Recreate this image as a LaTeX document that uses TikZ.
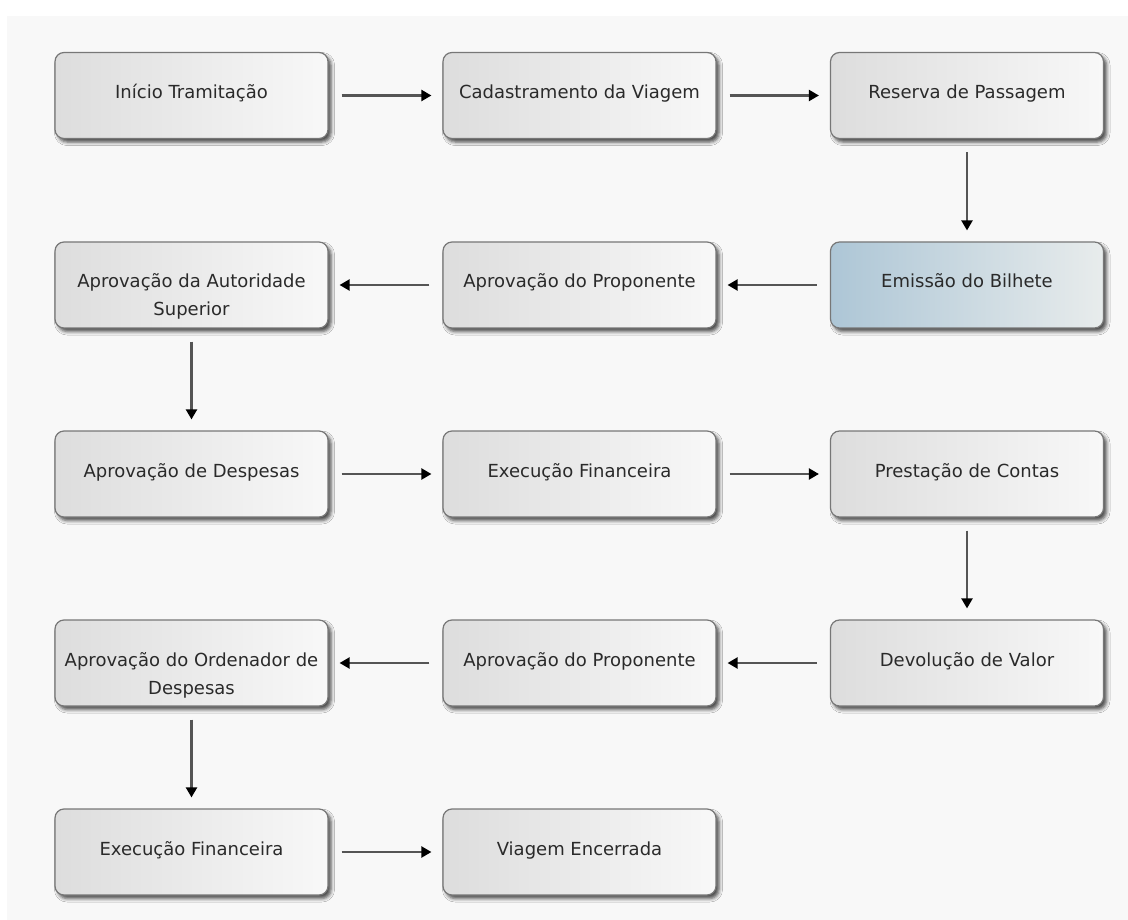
\documentclass[tikz,border=0pt]{standalone}
\usepackage{fontspec}
\setmainfont{DejaVu Sans}
\usetikzlibrary{arrows.meta,shadows.blur}
\definecolor{bgpanel}{HTML}{F8F8F8}
\definecolor{boxleft}{HTML}{DDDDDD}
\definecolor{boxright}{HTML}{F8F8F8}
\definecolor{boxline}{HTML}{777777}
\definecolor{txt}{HTML}{2A2A2A}
\definecolor{blueleft}{HTML}{ADC6D6}
\definecolor{blueright}{HTML}{E8ECEC}
\definecolor{arrline}{HTML}{555555}
\newcommand\boxtxt[1]{\parbox[c][86pt][t]{268pt}{\centering\rule{0pt}{46pt}#1}}
\tikzset{
  stepbox/.style={draw=boxline, line width=1.2pt, rounded corners=9pt,
    minimum width=273pt, minimum height=86pt, inner xsep=2.5pt, inner ysep=0pt,
    left color=boxleft, right color=boxright, text=txt,
    font=\fontsize{18}{28}\selectfont,
    blur shadow={shadow xshift=3pt, shadow yshift=-3.5pt, shadow blur radius=3.5pt, shadow opacity=70}},
  bluebox/.style={stepbox, left color=blueleft, right color=blueright},
  flow/.style={draw=arrline, line width=2.2pt,
    -{Triangle[length=10pt,width=11pt,color=black]},
    shorten <=13pt, shorten >=11pt}
}
\begin{document}
\begin{tikzpicture}[x=1pt,y=-1pt]
\useasboundingbox (0,0) rectangle (1128,920);
\fill[white] (0,0) rectangle (1128,920);
\fill[bgpanel] (7,16) rectangle (1128,920);
\node[stepbox] (a1) at (191.5,95.5) {\boxtxt{Início Tramitação}};
\node[stepbox] (a2) at (579.5,95.5) {\boxtxt{Cadastramento da Viagem}};
\node[stepbox] (a3) at (967,95.5) {\boxtxt{Reserva de Passagem}};
\node[bluebox] (b3) at (967,285) {\boxtxt{Emissão do Bilhete}};
\node[stepbox] (b2) at (579.5,285) {\boxtxt{Aprovação do Proponente}};
\node[stepbox] (b1) at (191.5,285) {\boxtxt{Aprovação da Autoridade\\Superior}};
\node[stepbox] (c1) at (191.5,474) {\boxtxt{Aprovação de Despesas}};
\node[stepbox] (c2) at (579.5,474) {\boxtxt{Execução Financeira}};
\node[stepbox] (c3) at (967,474) {\boxtxt{Prestação de Contas}};
\node[stepbox] (d3) at (967,663) {\boxtxt{Devolução de Valor}};
\node[stepbox] (d2) at (579.5,663) {\boxtxt{Aprovação do Proponente}};
\node[stepbox] (d1) at (191.5,663) {\boxtxt{Aprovação do Ordenador de\\Despesas}};
\node[stepbox] (e1) at (191.5,852) {\boxtxt{Execução Financeira}};
\node[stepbox] (e2) at (579.5,852) {\boxtxt{Viagem Encerrada}};
\draw[flow] (a1) -- (a2);
\draw[flow] (a2) -- (a3);
\draw[flow] (a3) -- (b3);
\draw[flow] (b3) -- (b2);
\draw[flow] (b2) -- (b1);
\draw[flow] (b1) -- (c1);
\draw[flow] (c1) -- (c2);
\draw[flow] (c2) -- (c3);
\draw[flow] (c3) -- (d3);
\draw[flow] (d3) -- (d2);
\draw[flow] (d2) -- (d1);
\draw[flow] (d1) -- (e1);
\draw[flow] (e1) -- (e2);
\end{tikzpicture}
\end{document}
